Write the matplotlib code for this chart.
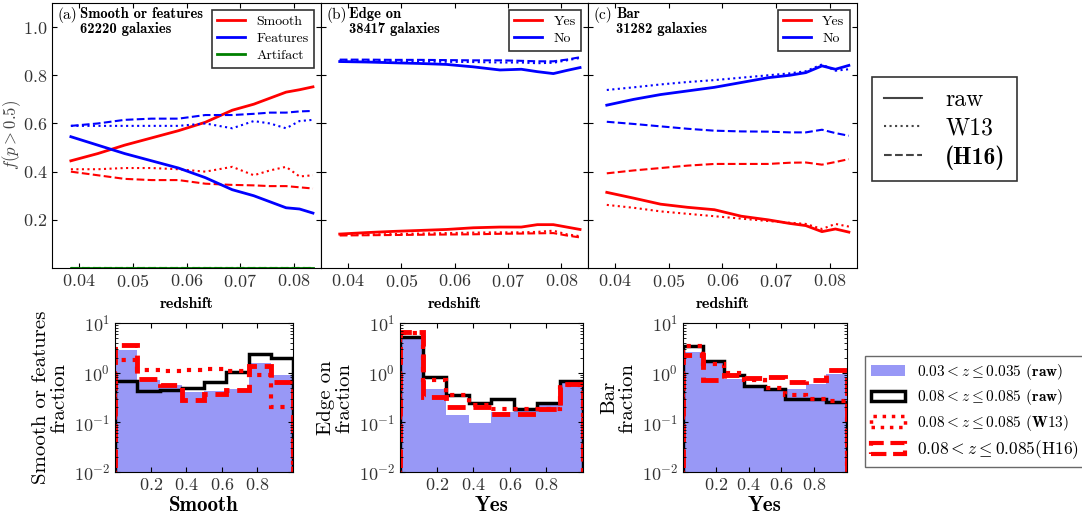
import matplotlib
matplotlib.use('Agg')
import matplotlib.pyplot as plt
import matplotlib.patches as mpatches
from matplotlib.lines import Line2D
import numpy as np

plt.rcParams['font.family'] = 'cmr10'
plt.rcParams['mathtext.fontset'] = 'cm'
plt.rcParams['axes.formatter.use_mathtext'] = True
plt.rcParams['axes.unicode_minus'] = False

# redshift bins (top row)
z = [0.0385, 0.0435, 0.0485, 0.0535, 0.0585, 0.0635, 0.0685, 0.0725, 0.0755, 0.0785, 0.081, 0.0835]

# (a) smooth or features
smooth_raw = [0.445, 0.475, 0.51, 0.54, 0.57, 0.605, 0.655, 0.68, 0.705, 0.73, 0.74, 0.752]
smooth_w13 = [0.41, 0.41, 0.415, 0.415, 0.41, 0.40, 0.42, 0.385, 0.405, 0.42, 0.38, 0.385]
smooth_h16 = [0.40, 0.385, 0.37, 0.365, 0.365, 0.35, 0.345, 0.343, 0.34, 0.34, 0.335, 0.33]
feat_raw = [0.545, 0.51, 0.475, 0.445, 0.415, 0.375, 0.325, 0.30, 0.275, 0.25, 0.245, 0.228]
feat_w13 = [0.59, 0.59, 0.59, 0.59, 0.59, 0.60, 0.58, 0.61, 0.60, 0.58, 0.61, 0.615]
feat_h16 = [0.59, 0.60, 0.615, 0.62, 0.62, 0.635, 0.635, 0.64, 0.645, 0.645, 0.65, 0.652]
artifact = [0.001] * 12

# (b) edge on
edge_yes_raw = [0.141, 0.147, 0.152, 0.156, 0.16, 0.167, 0.17, 0.17, 0.18, 0.18, 0.17, 0.16]
edge_yes_w13 = [0.137, 0.139, 0.141, 0.143, 0.145, 0.147, 0.148, 0.148, 0.15, 0.155, 0.14, 0.132]
edge_yes_h16 = [0.135, 0.136, 0.137, 0.138, 0.139, 0.14, 0.142, 0.143, 0.144, 0.145, 0.135, 0.127]
edge_no_raw = [0.857, 0.855, 0.852, 0.849, 0.845, 0.835, 0.822, 0.825, 0.815, 0.807, 0.82, 0.832]
edge_no_w13 = [0.862, 0.86, 0.858, 0.857, 0.856, 0.855, 0.853, 0.853, 0.85, 0.852, 0.862, 0.872]
edge_no_h16 = [0.865, 0.865, 0.864, 0.864, 0.863, 0.862, 0.862, 0.86, 0.858, 0.858, 0.865, 0.875]

# (c) bar
bar_yes_raw = [0.314, 0.29, 0.265, 0.252, 0.242, 0.215, 0.20, 0.185, 0.176, 0.151, 0.162, 0.149]
bar_yes_w13 = [0.262, 0.25, 0.235, 0.225, 0.215, 0.205, 0.195, 0.188, 0.183, 0.162, 0.183, 0.172]
bar_yes_h16 = [0.393, 0.405, 0.415, 0.425, 0.432, 0.432, 0.432, 0.437, 0.438, 0.429, 0.44, 0.452]
bar_no_raw = [0.676, 0.70, 0.72, 0.735, 0.75, 0.77, 0.79, 0.80, 0.811, 0.839, 0.825, 0.841]
bar_no_w13 = [0.739, 0.75, 0.762, 0.772, 0.78, 0.79, 0.80, 0.808, 0.817, 0.845, 0.819, 0.825]
bar_no_h16 = [0.607, 0.598, 0.588, 0.578, 0.57, 0.567, 0.566, 0.563, 0.563, 0.574, 0.56, 0.549]

# histograms (bottom row), 8 bins in vote fraction
edges = np.linspace(0, 1, 9)
sm_low_raw = [2.8, 0.72, 0.556, 0.41, 0.43, 0.48, 1.57, 0.88]
sm_high_raw = [0.68, 0.43, 0.44, 0.5, 0.65, 1.03, 2.41, 2.0]
sm_high_w13 = [1.77, 1.15, 1.07, 1.15, 1.2, 1.07, 0.9, 0.2]
sm_high_h16 = [3.66, 0.73, 0.56, 0.28, 0.38, 0.45, 1.34, 0.65]

ed_low_raw = [5.2, 0.46, 0.14, 0.098, 0.16, 0.18, 0.24, 0.62]
ed_high_raw = [5.2, 0.83, 0.355, 0.25, 0.29, 0.19, 0.245, 0.68]
ed_high_w13 = [6.3, 0.71, 0.35, 0.22, 0.19, 0.19, 0.19, 0.57]
ed_high_h16 = [6.5, 0.33, 0.2, 0.2, 0.15, 0.145, 0.19, 0.6]

ba_low_raw = [2.65, 1.62, 0.75, 0.57, 0.47, 0.46, 0.59, 0.95]
ba_high_raw = [3.4, 1.75, 0.9, 0.53, 0.46, 0.3, 0.29, 0.255]
ba_high_w13 = [3.5, 1.5, 1.0, 0.7, 0.49, 0.35, 0.29, 0.27]
ba_high_h16 = [2.27, 0.72, 0.9, 0.78, 0.8, 0.65, 0.72, 1.15]


def Ticks(ax):
    ax.tick_params(direction='in', which='both', top=True, right=True,
                   labelsize=13, labelcolor='#333333')


fig = plt.figure(figsize=(10.82, 5.18), dpi=100)

axa = fig.add_axes([0.0481, 0.4826, 0.2486, 0.5116])
axb = fig.add_axes([0.2967, 0.4826, 0.2468, 0.5116], sharey=axa)
axc = fig.add_axes([0.5434, 0.4826, 0.2486, 0.5116], sharey=axa)

top = [
    (axa, '(a)', 'Smooth or features\n62220 galaxies',
     [('Smooth', 'red', smooth_raw, smooth_w13, smooth_h16),
      ('Features', 'blue', feat_raw, feat_w13, feat_h16),
      ('Artifact', 'green', artifact, artifact, artifact)]),
    (axb, '(b)', 'Edge on\n38417 galaxies',
     [('Yes', 'red', edge_yes_raw, edge_yes_w13, edge_yes_h16),
      ('No', 'blue', edge_no_raw, edge_no_w13, edge_no_h16)]),
    (axc, '(c)', 'Bar\n31282 galaxies',
     [('Yes', 'red', bar_yes_raw, bar_yes_w13, bar_yes_h16),
      ('No', 'blue', bar_no_raw, bar_no_w13, bar_no_h16)]),
]

for ax, tag, title, series in top:
    for name, col, raw, w13, h16 in series:
        ax.plot(z, raw, color=col, lw=2, ls='-', label=name)
        ax.plot(z, w13, color=col, lw=1.5, ls=':')
        ax.plot(z, h16, color=col, lw=1.5, ls='--')
    ax.set_xlim(0.035, 0.085)
    ax.set_ylim(0, 1.1)
    ax.set_xticks([0.04, 0.05, 0.06, 0.07, 0.08])
    ax.set_yticks([0.2, 0.4, 0.6, 0.8, 1.0])
    Ticks(ax)
    ax.set_xlabel('redshift', fontfamily='cmb10', fontsize=11.5, labelpad=5)
    ax.text(0.02, 0.985, tag, transform=ax.transAxes, va='top', ha='left', fontsize=11)
    ax.text(0.105, 0.985, title, transform=ax.transAxes, va='top', ha='left',
            fontsize=10.5, fontfamily='cmb10', linespacing=1.1)
    leg = ax.legend(loc='upper right', fontsize=10, fancybox=False,
                    edgecolor='black', handlelength=2.0, borderaxespad=0.5,
                    labelspacing=0.3, handletextpad=0.8)
    leg.get_frame().set_linewidth(1.2)

axa.set_ylabel(r'$f(p > 0.5)$', fontsize=12, color='#444444')
axa.yaxis.set_label_coords(-0.108, 0.5)
plt.setp(axb.get_yticklabels(), visible=False)
plt.setp(axc.get_yticklabels(), visible=False)

ax1 = fig.add_axes([0.1063, 0.0888, 0.1645, 0.2876])
ax2 = fig.add_axes([0.3697, 0.0888, 0.1691, 0.2876])
ax3 = fig.add_axes([0.6312, 0.0888, 0.1516, 0.2876])

bottom = [
    (ax1, 'Smooth or features\nfraction', 'Smooth', sm_low_raw, sm_high_raw, sm_high_w13, sm_high_h16),
    (ax2, 'Edge on\nfraction', 'Yes', ed_low_raw, ed_high_raw, ed_high_w13, ed_high_h16),
    (ax3, 'Bar\nfraction', 'Yes', ba_low_raw, ba_high_raw, ba_high_w13, ba_high_h16),
]

blue_fill = '#9898f6'
for ax, ylab, xlab, low, high, w13, h16 in bottom:
    ax.stairs(low, edges, baseline=1e-3, fill=True, color=blue_fill, lw=0)
    ax.stairs(high, edges, baseline=1e-3, color='black', lw=2.5)
    ax.stairs(w13, edges, baseline=1e-3, color='red', lw=3, ls=':')
    ax.stairs(h16, edges, baseline=1e-3, color='red', lw=3.5, ls='--')
    ax.set_yscale('log')
    ax.set_ylim(1e-2, 1e1)
    ax.set_xlim(0, 1)
    ax.set_xticks([0.2, 0.4, 0.6, 0.8])
    Ticks(ax)
    ax.set_ylabel(ylab, fontsize=15, linespacing=1.0)
    ax.set_xlabel(xlab, fontsize=15, fontfamily='cmb10', labelpad=2)

# linestyle key
key = [Line2D([], [], color='#444444', lw=1.5, ls='-'),
       Line2D([], [], color='#444444', lw=1.5, ls=':'),
       Line2D([], [], color='#444444', lw=1.5, ls='--')]
leg1 = fig.legend(key, ['raw', 'W13', '(H16)'], loc='upper left',
                  bbox_to_anchor=(0.806, 0.851), fontsize=17, fancybox=False,
                  edgecolor='black', handlelength=1.6, labelspacing=0.25,
                  borderpad=0.5, handletextpad=1.0, borderaxespad=0)
leg1.get_frame().set_linewidth(1.2)
leg1.get_texts()[2].set_fontfamily('cmb10')

# histogram key
hkey = [mpatches.Patch(facecolor=blue_fill, edgecolor='none'),
        mpatches.Patch(facecolor='none', edgecolor='black', lw=2.5),
        mpatches.Patch(facecolor='none', edgecolor='red', lw=2.5, ls=':'),
        mpatches.Patch(facecolor='none', edgecolor='red', lw=3, ls='--')]
hlabels = [r'$0.03 < z \leq 0.035$ $\mathbf{(raw)}$',
           r'$0.08 < z \leq 0.085$ $\mathbf{(raw)}$',
           r'$0.08 < z \leq 0.085$ $\mathbf{(W13)}$',
           r'$0.08 < z \leq 0.085$(H16)']
leg2 = fig.legend(hkey, hlabels, loc='upper left', bbox_to_anchor=(0.7995, 0.3127),
                  fontsize=11, fancybox=False, edgecolor='#444444',
                  handlelength=2.2, labelspacing=0.35, borderaxespad=0,
                  handletextpad=0.8)
leg2.get_texts()[3].set_fontsize(12.5)

fig.savefig('out.png', dpi=100)
